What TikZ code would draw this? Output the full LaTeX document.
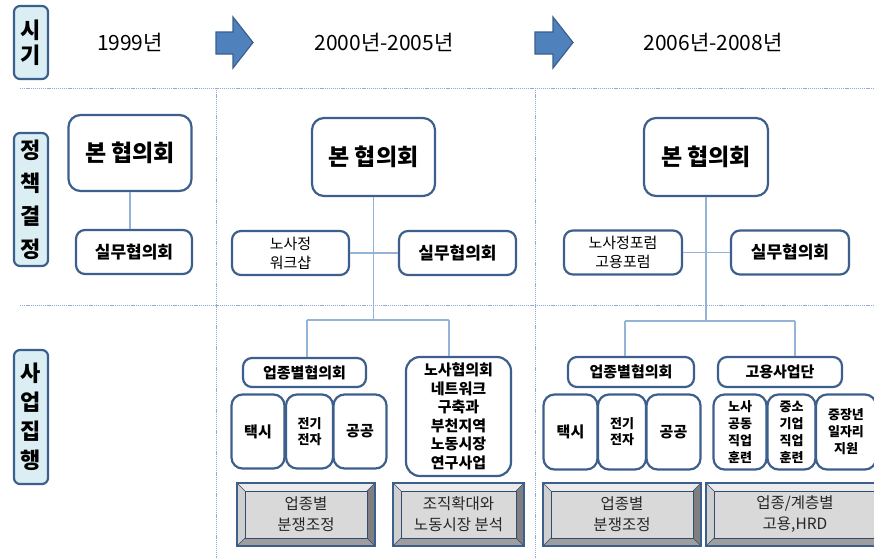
\documentclass[tikz,border=0pt]{standalone}
\usepackage{fontspec}
\setmainfont{Noto Sans CJK KR}
\definecolor{bord}{HTML}{3D5F8C}
\definecolor{conncol}{HTML}{95B3D7}
\definecolor{dotcol}{HTML}{8FAAD6}
\definecolor{labfill}{HTML}{DAEEF3}
\definecolor{arrfill}{HTML}{4F81BD}
\definecolor{arrbord}{HTML}{3A5F8E}
\definecolor{bvtop}{HTML}{EBEBEB}
\definecolor{bvleft}{HTML}{CFCFCF}
\definecolor{bvright}{HTML}{7F7F7F}
\definecolor{bvbot}{HTML}{9E9E9E}
\definecolor{bvface}{HTML}{D9D9D9}
\tikzset{
  box/.style={draw=bord, line width=2.2pt, fill=white, rounded corners=9pt, inner sep=0pt, align=center, text=black},
  lab/.style={draw=bord, line width=2.2pt, fill=labfill, rounded corners=6pt, inner sep=0pt, align=center},
  conn/.style={draw=conncol, line width=1.3pt},
  dotline/.style={draw=dotcol, line width=1pt, dash pattern=on 1.2pt off 0.9pt},
  arrowshape/.style={fill=arrfill, draw=arrbord, line width=1.2pt, line join=miter},
  bigtxt/.style={font=\fontsize{23}{27}\selectfont\bfseries},
  midtxt/.style={font=\fontsize{17}{20}\selectfont\bfseries},
  normtxt/.style={font=\fontsize{15}{19}\selectfont},
  boldtxt/.style={font=\fontsize{15}{19}\selectfont\bfseries},
  smallbold/.style={font=\fontsize{13}{16}\selectfont\bfseries},
  tinytxt/.style={font=\fontsize{13}{17}\selectfont\bfseries},
  yeartxt/.style={font=\fontsize{21}{25}\selectfont},
  bvtext/.style={font=\fontsize{15.5}{21}\selectfont, align=center, inner sep=0pt, text=black!85}
}
\newcommand\bvbox[6]{%
  \fill[bvtop] (#2,#3) -- (#4,#3) -- ({#4-8},{#3+8}) -- ({#2+8},{#3+8}) -- cycle;
  \fill[bvleft] (#2,#3) -- ({#2+8},{#3+8}) -- ({#2+8},{#5-8}) -- (#2,#5) -- cycle;
  \fill[bvright] (#4,#3) -- ({#4-8},{#3+8}) -- ({#4-8},{#5-8}) -- (#4,#5) -- cycle;
  \fill[bvbot] (#2,#5) -- ({#2+8},{#5-8}) -- ({#4-8},{#5-8}) -- (#4,#5) -- cycle;
  \draw[fill=bvface, draw=bord!80!black, line width=0.8pt] ({#2+8},{#3+8}) rectangle ({#4-8},{#5-8});
  \draw[bord!80!black, line width=0.6pt] (#2,#3) -- ({#2+8},{#3+8}) (#4,#3) -- ({#4-8},{#3+8}) (#2,#5) -- ({#2+8},{#5-8}) (#4,#5) -- ({#4-8},{#5-8});
  \draw[draw=bord, line width=2.6pt] (#2,#3) rectangle (#4,#5);
  \node[bvtext] (#1) at ({(#2+#4)/2},{(#3+#5)/2}) {#6};
}
\begin{document}
\begin{tikzpicture}[x=1pt,y=-1pt]
\useasboundingbox (0,0) rectangle (874,558);

% dotted grid
\draw[dotline] (20,88) -- (874,88);
\draw[dotline] (20,305) -- (874,305);
\draw[dotline] (216,88) -- (216,558);
\draw[dotline] (535,88) -- (535,558);

% row labels
\node[lab, minimum width=34pt, minimum height=73pt, font=\fontsize{22}{25}\selectfont\bfseries] (L1) at (31,42.5) {시\\기};
\node[lab, minimum width=34pt, minimum height=133pt, font=\fontsize{22}{33}\selectfont\bfseries] (L2) at (31,199.5) {정\\책\\결\\정};
\node[lab, minimum width=34pt, minimum height=134pt, font=\fontsize{22}{29}\selectfont\bfseries] (L3) at (31,417) {사\\업\\집\\행};

% years and arrows
\node[yeartxt] (y1) at (130,42) {1999년};
\node[yeartxt] (y2) at (384,42) {2000년-2005년};
\node[yeartxt] (y3) at (713,42) {2006년-2008년};
\draw[arrowshape] (216,32) -- (233,32) -- (233,17) -- (253,42.5) -- (233,68) -- (233,54) -- (216,54) -- cycle;
\draw[arrowshape] (535,32) -- (553,32) -- (553,17) -- (573,42.5) -- (553,68) -- (553,54) -- (535,54) -- cycle;

% ---- column 1 ----
\node[box, bigtxt, rounded corners=12pt, minimum width=123pt, minimum height=76pt] (b1) at (130,153) {본 협의회};
\node[box, midtxt, minimum width=116pt, minimum height=44pt] (s1) at (134,252) {실무협의회};
\draw[conn] (b1.south) -- (b1.south |- s1.north);

% ---- column 2 ----
\node[box, bigtxt, rounded corners=12pt, minimum width=123pt, minimum height=78pt] (b2) at (373.5,157) {본 협의회};
\node[box, normtxt, minimum width=117pt, minimum height=44pt] (w2) at (290.5,253) {노사정\\워크샵};
\node[box, midtxt, minimum width=117pt, minimum height=44pt] (s2) at (457.5,253) {실무협의회};
\coordinate (j2l) at (307,320);
\coordinate (j2r) at (449,320);
\draw[conn] (w2.east) -- (s2.west);
\draw[conn] (b2.south) -- (b2.south |- j2l);
\draw[conn] (j2l) -- (j2r);

\node[box, boldtxt, minimum width=123pt, minimum height=29pt] (u2) at (304.5,372.5) {업종별협의회};
\node[box, font=\fontsize{15}{18.5}\selectfont\bfseries, rounded corners=14pt, minimum width=105pt, minimum height=119pt] (n2) at (458.5,416.5) {노사협의회\\네트워크\\구축과\\부천지역\\노동시장\\연구사업};
\draw[conn] (j2l) -- (j2l |- u2.north);
\draw[conn] (j2r) -- (j2r |- n2.north);

\node[box, boldtxt, rounded corners=11pt, minimum width=53pt, minimum height=74pt] (t2) at (258,431.5) {택시};
\node[box, smallbold, rounded corners=11pt, minimum width=47pt, minimum height=74pt] (e2) at (309.5,431.5) {전기\\전자};
\node[box, boldtxt, rounded corners=11pt, minimum width=53pt, minimum height=74pt] (g2) at (360,431.5) {공공};

\bvbox{d2a}{237}{483}{375}{546}{업종별\\분쟁조정}
\bvbox{d2b}{393}{483}{524}{546}{조직확대와\\노동시장 분석}

% ---- column 3 ----
\node[box, bigtxt, rounded corners=12pt, minimum width=124pt, minimum height=78pt] (b3) at (706,157) {본 협의회};
\node[box, normtxt, minimum width=118pt, minimum height=44pt] (w3) at (623,252.5) {노사정포럼\\고용포럼};
\node[box, midtxt, minimum width=118pt, minimum height=44pt] (s3) at (790,252.5) {실무협의회};
\coordinate (j3l) at (625,321);
\coordinate (j3r) at (795,321);
\draw[conn] (w3.east) -- (s3.west);
\draw[conn] (b3.south) -- (b3.south |- j3l);
\draw[conn] (j3l) -- (j3r);

\node[box, boldtxt, minimum width=126pt, minimum height=30pt] (u3) at (631,372) {업종별협의회};
\node[box, boldtxt, minimum width=124pt, minimum height=30pt] (k3) at (780,372) {고용사업단};
\draw[conn] (j3l) -- (j3l |- u3.north);
\draw[conn] (j3r) -- (j3r |- k3.north);

\node[box, boldtxt, rounded corners=11pt, minimum width=54pt, minimum height=75pt] (t3) at (570.5,432) {택시};
\node[box, smallbold, rounded corners=11pt, minimum width=48pt, minimum height=75pt] (e3) at (622,432) {전기\\전자};
\node[box, boldtxt, rounded corners=11pt, minimum width=54pt, minimum height=75pt] (g3) at (673.5,432) {공공};

\node[box, tinytxt, rounded corners=11pt, minimum width=53pt, minimum height=75pt] (p3) at (740,432) {노사\\공동\\직업\\훈련};
\node[box, tinytxt, rounded corners=11pt, minimum width=48pt, minimum height=75pt] (m3) at (791.5,432) {중소\\기업\\직업\\훈련};
\node[box, tinytxt, rounded corners=11pt, minimum width=60pt, minimum height=75pt] (q3) at (846,432) {중장년\\일자리\\지원};

\bvbox{d3a}{543}{483}{701}{546}{업종별\\분쟁조정}
\bvbox{d3b}{706}{483}{884}{546}{업종/계층별\\고용,HRD}
\end{tikzpicture}
\end{document}
